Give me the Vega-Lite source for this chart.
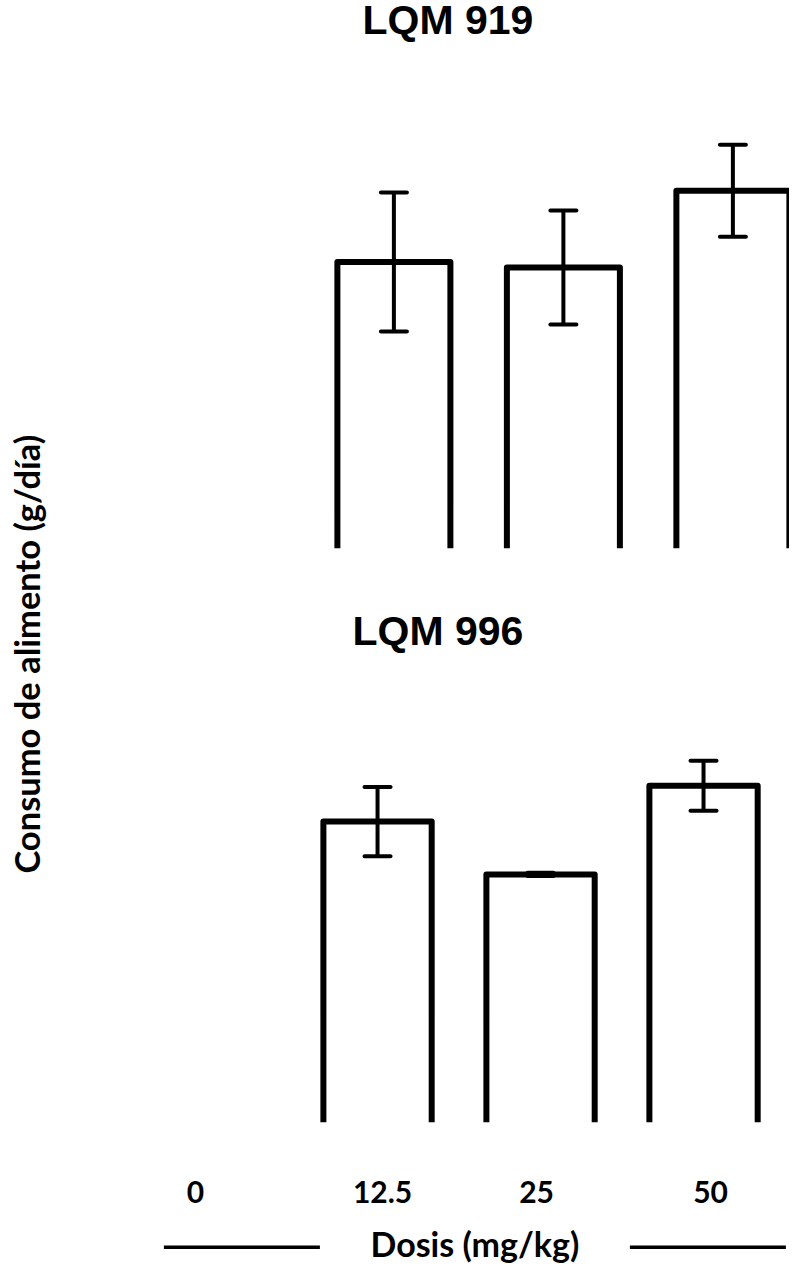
{
  "$schema": "https://vega.github.io/schema/vega-lite/v6.json",
  "autosize": {"type": "pad"},
  "padding": {"left": 11.4, "top": 0.2, "right": 0, "bottom": 0},
  "background": "white",
  "config": {"view": {"stroke": null}, "axis": {"grid": false}},
  "datasets": {
    "lqm919": [
      {"dosis": "12.5", "consumo": 15.31, "ee": 3.48},
      {"dosis": "25", "consumo": 15.03, "ee": 2.85},
      {"dosis": "50", "consumo": 18.87, "ee": 2.3}
    ],
    "lqm996": [
      {"dosis": "12.5", "consumo": 16.03, "ee": 1.73},
      {"dosis": "25", "consumo": 13.39, "ee": 0.08},
      {"dosis": "50", "consumo": 17.82, "ee": 1.25}
    ]
  },
  "spacing": 134,
  "bounds": "flush",
  "resolve": {"scale": {"x": "independent", "y": "independent"}},
  "vconcat": [
    {
      "data": {"name": "lqm919"},
      "width": 629,
      "height": 480,
      "title": {"text": "LQM 919", "font": "Liberation Sans", "fontSize": 41, "fontWeight": "bold", "color": "black", "anchor": "middle", "frame": "group", "dx": -27, "baseline": "alphabetic", "offset": -6.8},
      "encoding": {
        "x": {"field": "dosis", "type": "nominal", "sort": null,
              "scale": {"domain": ["0", "12.5", "25", "50"], "paddingInner": 0.3333, "paddingOuter": 0.0221, "align": 1},
              "axis": null},
        "y": {"field": "consumo", "type": "quantitative", "title": "Consumo de alimento (g/día)",
              "scale": {"domain": [1, 25], "zero": false, "nice": false},
              "axis": {"labels": false, "ticks": false, "domain": false, "grid": false,
                       "titleFont": "Lato", "titleFontSize": 34.5, "titleFontWeight": "bold", "titleColor": "black",
                       "titleX": -121, "titleY": 585.5, "titleAlign": "center", "titleBaseline": "alphabetic", "titleAngle": -90}}
      },
      "layer": [
        {"mark": {"type": "bar", "filled": false, "stroke": "black", "strokeWidth": 6, "strokeJoin": "round", "clip": true},
         "encoding": {"y2": {"datum": 0}}},
        {"mark": {"type": "errorbar", "color": "black", "ticks": {"size": 30, "thickness": 4, "color": "black", "opacity": 1, "cornerRadius": 2}, "rule": {"strokeWidth": 4, "color": "black", "opacity": 1}},
         "encoding": {"yError": {"field": "ee"}}}
      ]
    },
    {
      "data": {"name": "lqm996"},
      "width": 625,
      "height": 440,
      "title": {"text": "LQM 996", "font": "Liberation Sans", "fontSize": 41, "fontWeight": "bold", "color": "black", "anchor": "middle", "frame": "group", "dx": -35, "baseline": "alphabetic", "offset": -3.8},
      "encoding": {
        "x": {"field": "dosis", "type": "nominal", "sort": null,
              "scale": {"domain": ["0", "12.5", "25", "50"], "paddingInner": 0.3356, "paddingOuter": 0.085, "align": 0},
              "axis": {"orient": "bottom", "offset": 124.6,
                       "title": "Dosis (mg/kg)", "titleFont": "Lato", "titleFontSize": 34, "titleFontWeight": "bold", "titleColor": "black",
                       "titleX": 314, "titleY": 0, "titleBaseline": "middle", "titleAlign": "center",
                       "domain": true, "domainColor": "black", "domainWidth": 3.5, "domainDash": [0, 3, 156, 310, 156, 1000], "domainCap": "butt",
                       "ticks": false, "tickSize": 0,
                       "labelFont": "Lato", "labelFontSize": 30, "labelFontWeight": "bold", "labelColor": "black", "labelAngle": 0,
                       "labelBaseline": "middle", "labelPadding": -53.6, "labelOverlap": false,
                       "labelOffset": {"condition": [{"test": "datum.value === '0'", "value": -19}, {"test": "datum.value === '12.5'", "value": 5}, {"test": "datum.value === '25'", "value": -4}], "value": 7}}},
        "y": {"field": "consumo", "type": "quantitative",
              "scale": {"domain": [1, 23], "zero": false, "nice": false},
              "axis": null}
      },
      "layer": [
        {"mark": {"type": "bar", "filled": false, "stroke": "black", "strokeWidth": 6, "strokeJoin": "round", "clip": true},
         "encoding": {"y2": {"datum": 0}}},
        {"mark": {"type": "errorbar", "color": "black", "ticks": {"size": 30, "thickness": 4, "color": "black", "opacity": 1, "cornerRadius": 2}, "rule": {"strokeWidth": 4, "color": "black", "opacity": 1}},
         "encoding": {"yError": {"field": "ee"}}}
      ]
    }
  ]
}
